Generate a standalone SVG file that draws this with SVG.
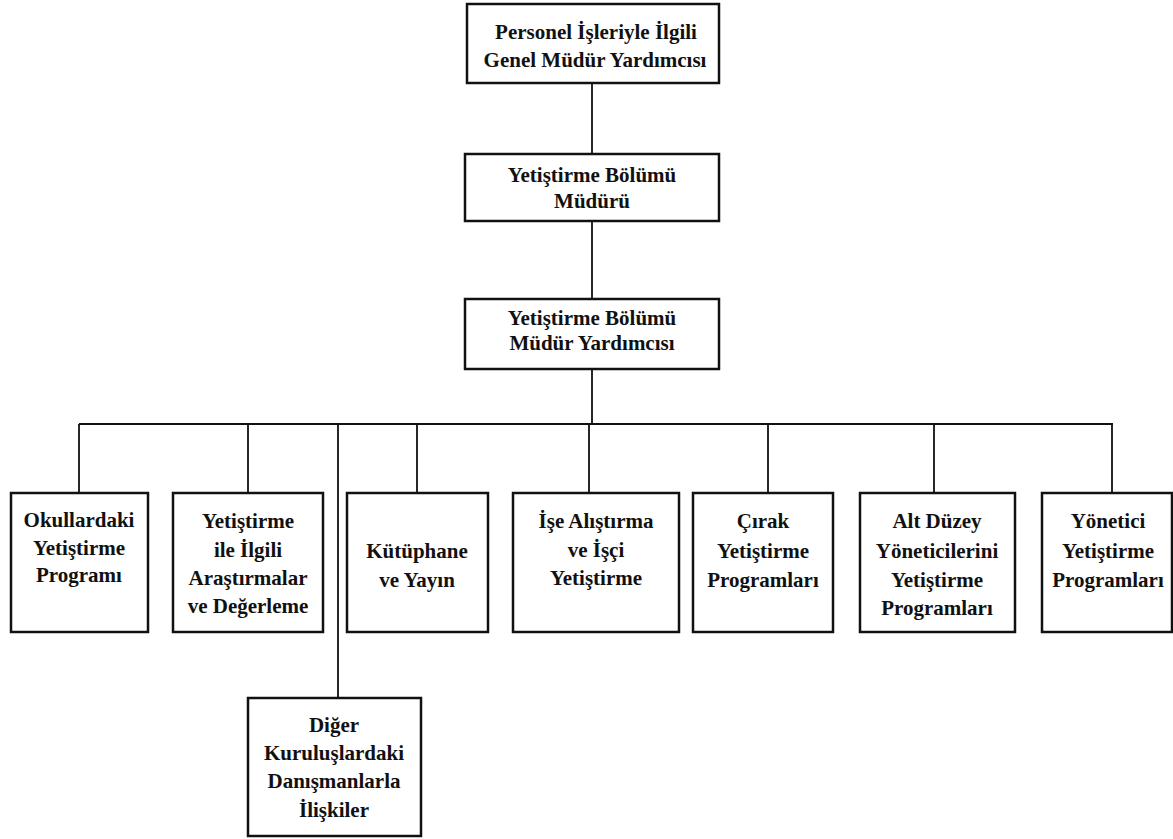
<svg xmlns="http://www.w3.org/2000/svg" width="1173" height="839" viewBox="0 0 1173 839">
<style>
.box{fill:#fff;stroke:#111;stroke-width:2.5}
.ln{stroke:#111;stroke-width:1.8;fill:none}
text{font-family:"Liberation Serif","Times New Roman",serif;font-weight:bold;font-size:21px;fill:#111;text-anchor:middle}
</style>
<rect width="1173" height="839" fill="#fff"/>
<g id="connectors">
<path class="ln" d="M592 83V154M592 221V299M592 369V424M79 424H1113M79 424V493M248 424V493M338 424V698M417 424V493M589 424V493M768 424V493M934 424V493M1112 424V493"/>
</g>
<g id="n1"><rect class="box" x="467" y="4" width="252" height="79"/><text x="596" y="39">Personel İşleriyle İlgili</text><text x="595" y="67">Genel Müdür Yardımcısı</text></g>
<g id="n2"><rect class="box" x="465" y="154" width="254" height="67"/><text x="592" y="182">Yetiştirme Bölümü</text><text x="592" y="208">Müdürü</text></g>
<g id="n3"><rect class="box" x="465" y="299" width="254" height="70"/><text x="592" y="325">Yetiştirme Bölümü</text><text x="592" y="350">Müdür Yardımcısı</text></g>
<g id="n4"><rect class="box" x="11" y="493" width="137" height="139"/><text x="79" y="527">Okullardaki</text><text x="79" y="555">Yetiştirme</text><text x="79" y="582">Programı</text></g>
<g id="n5"><rect class="box" x="173" y="493" width="150" height="139"/><text x="248" y="528">Yetiştirme</text><text x="248" y="557">ile İlgili</text><text x="248" y="585">Araştırmalar</text><text x="248" y="613">ve Değerleme</text></g>
<g id="n6"><rect class="box" x="347" y="493" width="141" height="139"/><text x="417" y="558">Kütüphane</text><text x="417" y="587">ve Yayın</text></g>
<g id="n7"><rect class="box" x="513" y="493" width="166" height="139"/><text x="596" y="528">İşe Alıştırma</text><text x="596" y="557">ve İşçi</text><text x="596" y="585">Yetiştirme</text></g>
<g id="n8"><rect class="box" x="693" y="493" width="140" height="139"/><text x="763" y="528">Çırak</text><text x="763" y="558">Yetiştirme</text><text x="763" y="587">Programları</text></g>
<g id="n9"><rect class="box" x="860" y="493" width="155" height="139"/><text x="937" y="528">Alt Düzey</text><text x="937" y="558">Yöneticilerini</text><text x="937" y="587">Yetiştirme</text><text x="937" y="615">Programları</text></g>
<g id="n10"><rect class="box" x="1042" y="493" width="130" height="139"/><text x="1108" y="528">Yönetici</text><text x="1108" y="558">Yetiştirme</text><text x="1108" y="587">Programları</text></g>
<g id="n11"><rect class="box" x="248" y="698" width="173" height="138"/><text x="334" y="732">Diğer</text><text x="334" y="760">Kuruluşlardaki</text><text x="334" y="788">Danışmanlarla</text><text x="334" y="817">İlişkiler</text></g>
</svg>
